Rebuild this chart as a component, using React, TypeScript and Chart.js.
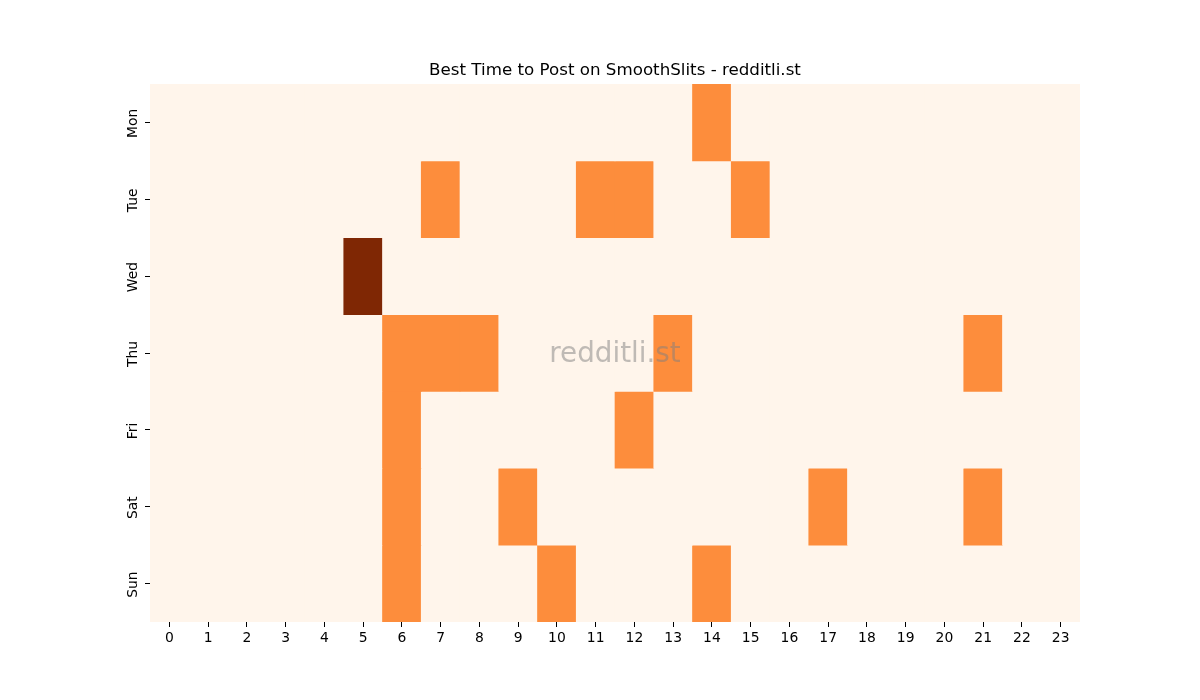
import { useEffect, useRef } from 'react';
import { Chart, registerables } from 'chart.js';

Chart.register(...registerables);

const hours = ['0', '1', '2', '3', '4', '5', '6', '7', '8', '9', '10', '11', '12', '13', '14', '15', '16', '17', '18', '19', '20', '21', '22', '23'];
const days = ['Mon', 'Tue', 'Wed', 'Thu', 'Fri', 'Sat', 'Sun'];

// posts per hour slot, one array per weekday
const mon = [0, 0, 0, 0, 0, 0, 0, 0, 0, 0, 0, 0, 0, 0, 1, 0, 0, 0, 0, 0, 0, 0, 0, 0];
const tue = [0, 0, 0, 0, 0, 0, 0, 1, 0, 0, 0, 1, 1, 0, 0, 1, 0, 0, 0, 0, 0, 0, 0, 0];
const wed = [0, 0, 0, 0, 0, 2, 0, 0, 0, 0, 0, 0, 0, 0, 0, 0, 0, 0, 0, 0, 0, 0, 0, 0];
const thu = [0, 0, 0, 0, 0, 0, 1, 1, 1, 0, 0, 0, 0, 1, 0, 0, 0, 0, 0, 0, 0, 1, 0, 0];
const fri = [0, 0, 0, 0, 0, 0, 1, 0, 0, 0, 0, 0, 1, 0, 0, 0, 0, 0, 0, 0, 0, 0, 0, 0];
const sat = [0, 0, 0, 0, 0, 0, 1, 0, 0, 1, 0, 0, 0, 0, 0, 0, 0, 1, 0, 0, 0, 1, 0, 0];
const sun = [0, 0, 0, 0, 0, 0, 1, 0, 0, 0, 1, 0, 0, 0, 1, 0, 0, 0, 0, 0, 0, 0, 0, 0];

const grid = [mon, tue, wed, thu, fri, sat, sun];
const palette = ['#fff5eb', '#fd8d3c', '#7f2704'];

const TITLE = 'Best Time to Post on SmoothSlits - redditli.st';
const FONT = "'DejaVu Sans', sans-serif";

const heatBackground = {
  id: 'heatBackground',
  beforeDatasetsDraw(chart: Chart) {
    const { ctx, chartArea: a } = chart;
    ctx.save();
    ctx.fillStyle = palette[0];
    ctx.fillRect(a.left, a.top, a.right - a.left, a.bottom - a.top);
    ctx.restore();
  },
};

// title centred over the plot area, rotated day labels, watermark
const decorations = {
  id: 'decorations',
  afterDraw(chart: Chart) {
    const { ctx, chartArea: a } = chart;
    const y = chart.scales.y;
    ctx.save();
    ctx.fillStyle = '#000';
    ctx.font = `16.7px ${FONT}`;
    ctx.textAlign = 'center';
    ctx.textBaseline = 'middle';
    ctx.fillText(TITLE, (a.left + a.right) / 2, 71);

    ctx.font = `13.9px ${FONT}`;
    days.forEach((d, i) => {
      ctx.save();
      ctx.translate(133, y.getPixelForValue(i) + 1);
      ctx.rotate(-Math.PI / 2);
      ctx.fillText(d, 0, 0);
      ctx.restore();
    });

    ctx.font = `27.8px ${FONT}`;
    ctx.fillStyle = 'rgba(128,128,128,0.5)';
    ctx.fillText('redditli.st', (a.left + a.right) / 2, (a.top + a.bottom) / 2 + 2);
    ctx.restore();
  },
};

export default function App() {
  const canvasRef = useRef<HTMLCanvasElement>(null);
  const chartRef = useRef<Chart | null>(null);

  useEffect(() => {
    document.body.style.margin = '0';
    if (!canvasRef.current) return;
    chartRef.current?.destroy();

    chartRef.current = new Chart(canvasRef.current, {
      type: 'bar',
      data: {
        labels: hours,
        datasets: grid.map((row, r) => ({
          label: days[r],
          data: row.map(() => [r - 0.5, r + 0.5]),
          backgroundColor: row.map((v) => palette[v]),
          borderWidth: 0,
          borderSkipped: false,
          grouped: false,
          barPercentage: 1,
          categoryPercentage: 1,
        })),
      },
      options: {
        responsive: false,
        animation: false,
        layout: { padding: { left: 0, right: 120, top: 84, bottom: 0 } },
        plugins: {
          legend: { display: false },
          tooltip: { enabled: false },
          title: { display: false },
        },
        scales: {
          x: {
            type: 'category',
            offset: true,
            grid: { display: true, drawOnChartArea: false, drawTicks: true, tickLength: 5, color: '#000', offset: false },
            border: { display: false },
            ticks: { color: '#000', font: { family: FONT, size: 13.9 }, padding: 3, maxRotation: 0, autoSkip: false },
            afterFit: (scale) => {
              scale.height = 78;
            },
          },
          y: {
            type: 'linear',
            min: -0.5,
            max: 6.5,
            reverse: true,
            grid: { display: true, drawOnChartArea: false, drawTicks: true, tickLength: 5, color: '#000' },
            border: { display: false },
            afterBuildTicks: (scale) => {
              scale.ticks = days.map((_, i) => ({ value: i }));
            },
            ticks: { display: false },
            afterFit: (scale) => {
              scale.width = 150;
            },
          },
        },
      },
      plugins: [heatBackground, decorations],
    });

    return () => {
      chartRef.current?.destroy();
    };
  }, []);

  return <canvas ref={canvasRef} width={1200} height={700} style={{ display: 'block' }} />;
}
